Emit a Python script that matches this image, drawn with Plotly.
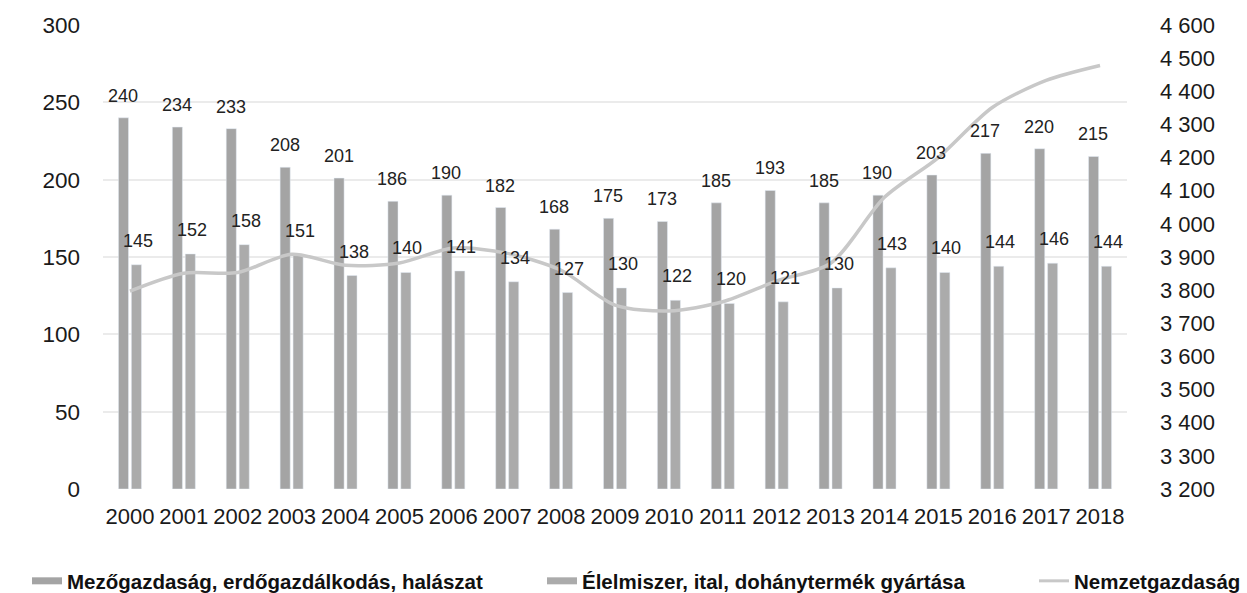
import plotly.graph_objects as go

years = [str(y) for y in range(2000, 2019)]
mezogazdasag = [240, 234, 233, 208, 201, 186, 190, 182, 168, 175, 173, 185, 193, 185, 190, 203, 217, 220, 215]
elelmiszer = [145, 152, 158, 151, 138, 140, 141, 134, 127, 130, 122, 120, 121, 130, 143, 140, 144, 146, 144]
nemzetgazdasag = [3797, 3851, 3853, 3908, 3875, 3882, 3927, 3911, 3860, 3755, 3737, 3765, 3828, 3881, 4080, 4200, 4351, 4433, 4478]
right_ticks = list(range(3200, 4601, 100))

names = ["Mezőgazdaság, erdőgazdálkodás, halászat",
         "Élelmiszer, ital, dohánytermék gyártása",
         "Nemzetgazdaság"]

c_bar1 = "#a4a4a4"
c_bar2 = "#ababab"
c_line = "#c8c8c8"
FONT = "Liberation Sans, Arial, sans-serif"
W, H = 1247, 593

fig = go.Figure()
fig.add_trace(go.Bar(x=years, y=mezogazdasag, marker_color=c_bar1, showlegend=False,
                     hoverinfo="skip"))
fig.add_trace(go.Bar(x=years, y=elelmiszer, marker_color=c_bar2, showlegend=False,
                     hoverinfo="skip"))
fig.add_trace(go.Scatter(x=years, y=nemzetgazdasag, yaxis="y2", mode="lines",
                         line=dict(color=c_line, width=3.5, shape="spline", smoothing=0.8),
                         showlegend=False, hoverinfo="skip"))

# legend-only entries (line-style swatches like the reference), one legend each
fig.add_trace(go.Scatter(x=[years[0]], y=[None], mode="lines", name=names[0], legend="legend",
                         line=dict(color=c_bar1, width=7), hoverinfo="skip"))
fig.add_trace(go.Scatter(x=[years[0]], y=[None], mode="lines", name=names[1], legend="legend2",
                         line=dict(color=c_bar2, width=7), hoverinfo="skip"))
fig.add_trace(go.Scatter(x=[years[0]], y=[None], mode="lines", name=names[2], yaxis="y2",
                         legend="legend3", line=dict(color=c_line, width=3), hoverinfo="skip"))

annotations = []
# x given as category index (a year-like string would be read as a numeric index)
for i, v in enumerate(mezogazdasag):
    annotations.append(dict(x=i, y=v, xref="x", yref="y", text=str(v), showarrow=False,
                            xshift=-7, yshift=22, yanchor="middle",
                            font=dict(size=18, color="#222222", family=FONT)))
for i, v in enumerate(elelmiszer):
    annotations.append(dict(x=i, y=v, xref="x", yref="y", text=str(v), showarrow=False,
                            xshift=8, yshift=24, yanchor="middle",
                            font=dict(size=18, color="#222222", family=FONT)))

legfont = dict(size=20.5, family=FONT, weight="bold", color="#111111")
leg_y = 1 - 581 / H


def leg(xpx):
    return dict(orientation="h", xref="container", yref="container",
                x=xpx / W, xanchor="left", y=leg_y, yanchor="middle",
                font=legfont, itemwidth=30, bgcolor="rgba(0,0,0,0)")


fig.update_layout(
    width=W, height=H,
    margin=dict(l=103, r=120, t=25, b=104, autoexpand=False),
    paper_bgcolor="white", plot_bgcolor="white",
    font=dict(family=FONT, color="#1a1a1a"),
    barmode="group", bargap=0.52, bargroupgap=0.22,
    annotations=annotations,
    xaxis=dict(type="category", categoryorder="array", categoryarray=years,
               range=[-0.5, len(years) - 0.5], autorange=False,
               showgrid=False, showline=False, ticks="",
               tickfont=dict(size=22), ticklabelstandoff=12),
    yaxis=dict(range=[0, 300], dtick=50, showgrid=True, gridcolor="#ebebeb", gridwidth=1.5,
               zeroline=False, showline=False, ticks="", tickfont=dict(size=22.5),
               ticklabelstandoff=22),
    yaxis2=dict(range=[3200, 4600], overlaying="y", side="right",
                tickvals=right_ticks,
                ticktext=[f"{t // 1000} {t % 1000:03d}" for t in right_ticks],
                showgrid=False, zeroline=False, showline=False, ticks="",
                tickfont=dict(size=22), ticklabelstandoff=32),
    legend=leg(27),
    legend2=leg(542),
    legend3=leg(1034),
)

fig.write_html("out.html",
               config={"displayModeBar": False},
               post_script="document.body.style.margin='0';document.body.style.overflow='hidden';")
